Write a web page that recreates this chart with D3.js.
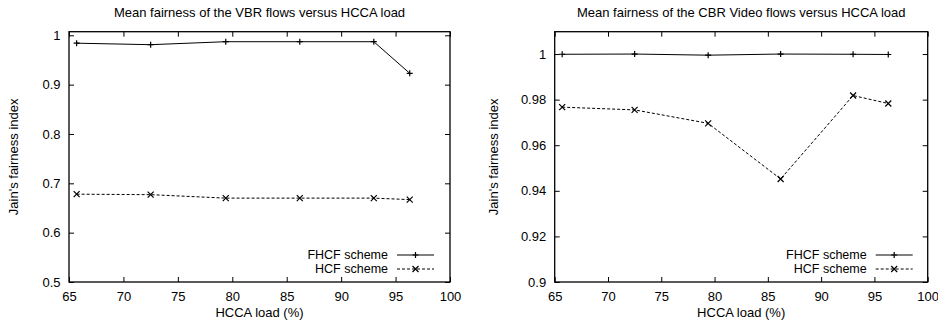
<!DOCTYPE html>
<html>
<head>
<meta charset="utf-8">
<script src="https://d3js.org/d3.v7.min.js"></script>
<style>
  body { margin: 0; background: #fff; }
  text { font-family: "Liberation Sans", Arial, sans-serif; fill: #000; }
</style>
</head>
<body>
<div id="chart-area"></div>
<script>
// HCCA load (%) for each run
var loads = [65.7, 72.5, 79.4, 86.2, 93.0, 96.3]

// VBR panel
var vbrFhcf = [0.984, 0.981, 0.987, 0.987, 0.987, 0.923]
var vbrHcf = [0.678, 0.677, 0.670, 0.670, 0.670, 0.667]
var vbrTicks = [0.5, 0.6, 0.7, 0.8, 0.9, 1]

// CBR video panel
var cbrFhcf = [0.9999, 1.0, 0.9995, 1.0, 0.9999, 0.9998]
var cbrHcf = [0.9767, 0.9755, 0.9696, 0.9452, 0.9818, 0.9783]
var cbrTicks = [0.9, 0.92, 0.94, 0.96, 0.98, 1]

var xTicks = [65, 70, 75, 80, 85, 90, 95, 100]
var seriesNames = ['FHCF scheme', 'HCF scheme']

var svg = d3.select('#chart-area').append('svg')
  .attr('width', 938)
  .attr('height', 324)

// one gnuplot-like panel
function drawPanel(opt) {
  var g = svg.append('g')
    .attr('transform', 'translate(' + opt.left + ',' + opt.top + ')')
  var w = opt.width, h = opt.height

  var x = d3.scaleLinear().domain([65, 100]).range([0, w])
  var y = d3.scaleLinear().domain(opt.yDomain).range([h, 0])

  // ticks drawn inward on all four sides
  var tk = 5
  g.append('g').attr('transform', 'translate(0,' + h + ')')
    .call(d3.axisBottom(x).tickValues(xTicks).tickSize(-tk).tickPadding(10))
  g.append('g')
    .call(d3.axisTop(x).tickValues(xTicks).tickSize(-tk).tickFormat(''))
  g.append('g')
    .call(d3.axisLeft(y).tickValues(opt.yTicks).tickSize(-tk).tickPadding(8.5).tickFormat(d3.format('~g')))
  g.append('g').attr('transform', 'translate(' + w + ',0)')
    .call(d3.axisRight(y).tickValues(opt.yTicks).tickSize(-tk).tickFormat(''))

  g.selectAll('.domain').remove()
  g.selectAll('.tick line').attr('stroke', '#000')
  g.selectAll('.tick text')
    .attr('font-size', '13px')
    .attr('font-family', '"Liberation Sans", Arial, sans-serif')
    .attr('fill', '#000')

  // frame
  g.append('rect')
    .attr('width', w).attr('height', h)
    .attr('fill', 'none').attr('stroke', '#000').attr('stroke-width', 1.3)

  // title and axis labels
  g.append('text')
    .attr('x', w / 2).attr('y', -15)
    .attr('text-anchor', 'middle').attr('font-size', '13px')
    .text(opt.title)
  g.append('text')
    .attr('x', w / 2).attr('y', h + 35.5)
    .attr('text-anchor', 'middle').attr('font-size', '13px')
    .text('HCCA load (%)')
  g.append('text')
    .attr('transform', 'rotate(-90)')
    .attr('x', -h / 2).attr('y', opt.yLabelX)
    .attr('text-anchor', 'middle').attr('font-size', '13px')
    .text("Jain's fairness index")

  var line = d3.line()
    .x(function(d, i){ return x(loads[i]) })
    .y(function(d){ return y(d) })

  var dashes = [null, '3,2']
  var series = [opt.fhcf, opt.hcf]
  var s = 3

  function marker(sel, kind, px, py) {
    var p = kind == 0
      ? 'M' + (px - s) + ',' + py + 'H' + (px + s) + 'M' + px + ',' + (py - s) + 'V' + (py + s)
      : 'M' + (px - s) + ',' + (py - s) + 'L' + (px + s) + ',' + (py + s) +
        'M' + (px - s) + ',' + (py + s) + 'L' + (px + s) + ',' + (py - s)
    sel.append('path').attr('d', p).attr('stroke', '#000').attr('stroke-width', 1.2).attr('fill', 'none')
  }

  series.forEach(function(vals, k){
    g.append('path')
      .datum(vals)
      .attr('d', line)
      .attr('fill', 'none')
      .attr('stroke', '#000')
      .attr('stroke-width', 1)
      .attr('stroke-dasharray', dashes[k])
    vals.forEach(function(v, i){ marker(g, k, x(loads[i]), y(v)) })
  })

  // legend, bottom right
  seriesNames.forEach(function(name, k){
    var ly = h - 27 + k * 14
    var x1 = w - opt.legendRight - 37, x2 = w - opt.legendRight
    g.append('text')
      .attr('x', x1 - 9).attr('y', ly + 4.5)
      .attr('text-anchor', 'end').attr('font-size', '12.5px')
      .text(name)
    g.append('line')
      .attr('x1', x1).attr('x2', x2).attr('y1', ly).attr('y2', ly)
      .attr('stroke', '#000').attr('stroke-width', 1)
      .attr('stroke-dasharray', dashes[k])
    marker(g, k, (x1 + x2) / 2, ly)
  })
}

drawPanel({
  left: 69, top: 31.7, width: 381, height: 250.3,
  yDomain: [0.5, 1.0073], yTicks: vbrTicks,
  fhcf: vbrFhcf, hcf: vbrHcf,
  title: 'Mean fairness of the VBR flows versus HCCA load',
  yLabelX: -51, legendRight: 16
})

drawPanel({
  left: 554.7, top: 31.7, width: 373, height: 250.3,
  yDomain: [0.9, 1.0098], yTicks: cbrTicks,
  fhcf: cbrFhcf, hcf: cbrHcf,
  title: 'Mean fairness of the CBR Video flows versus HCCA load',
  yLabelX: -57, legendRight: 15
})
</script>
</body>
</html>
